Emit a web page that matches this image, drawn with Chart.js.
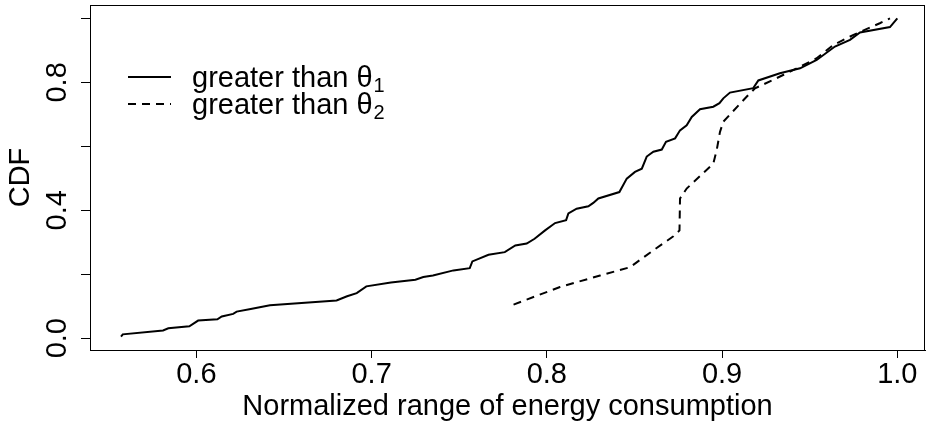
<!DOCTYPE html>
<html>
<head>
<meta charset="utf-8">
<title>CDF</title>
<script src="https://cdn.jsdelivr.net/npm/chart.js@4.4.1/dist/chart.umd.min.js"></script>
<style>
    html, body { margin: 0; padding: 0; background: #ffffff; }
    #wrap { width: 926px; height: 428px; }
</style>
</head>
<body>
<div id="wrap"><canvas id="cdfChart" width="926" height="428"></canvas></div>
<script>
// curva solida: rango normalizado mayor que theta 1
const thetaOneX = [0.557, 0.558, 0.581, 0.584, 0.596, 0.601, 0.612, 0.6145, 0.621, 0.623,
    0.631, 0.642, 0.680, 0.686, 0.6915, 0.697, 0.711, 0.725, 0.7295, 0.735,
    0.7467, 0.756, 0.7575, 0.7667, 0.776, 0.782, 0.7885, 0.793, 0.799, 0.8047,
    0.811, 0.8123, 0.817, 0.8237, 0.8265, 0.8294, 0.8414, 0.8456, 0.8503, 0.8542,
    0.857, 0.8608, 0.8656, 0.868, 0.8732, 0.876, 0.8798, 0.8827, 0.8874, 0.895,
    0.8985, 0.9007, 0.9045, 0.9178, 0.9207, 0.933, 0.9445, 0.954, 0.9644, 0.973,
    0.9787, 0.9958, 1.0];
const thetaOneY = [0.005, 0.012, 0.024, 0.031, 0.037, 0.055, 0.059, 0.068, 0.076, 0.083,
    0.091, 0.103, 0.118, 0.131, 0.141, 0.162, 0.174, 0.183, 0.191, 0.196,
    0.212, 0.219, 0.240, 0.261, 0.269, 0.290, 0.296, 0.311, 0.337, 0.360,
    0.369, 0.390, 0.405, 0.4125, 0.423, 0.437, 0.457, 0.499, 0.520, 0.530,
    0.568, 0.583, 0.590, 0.614, 0.625, 0.650, 0.666, 0.692, 0.716, 0.724,
    0.735, 0.750, 0.768, 0.782, 0.806, 0.8285, 0.844, 0.870, 0.912, 0.933,
    0.956, 0.973, 1.0];

// curva discontinua: mayor que theta 2
const thetaTwoX = [0.781, 0.8075, 0.8304, 0.8475, 0.8608, 0.8722, 0.8757, 0.876, 0.8798, 0.895,
    0.897, 0.8988, 0.9007, 0.914, 0.9188, 0.929, 0.9426, 0.954, 0.9635, 0.975,
    0.990, 0.9958];
const thetaTwoY = [0.105, 0.160, 0.196, 0.222, 0.275, 0.3185, 0.337, 0.437, 0.468, 0.546,
    0.590, 0.645, 0.677, 0.755, 0.7815, 0.8075, 0.844, 0.8755, 0.917, 0.9486,
    0.985, 1.0];

const xTicks = [0.6, 0.7, 0.8, 0.9, 1.0];
const yTicks = [0.0, 0.2, 0.4, 0.6, 0.8, 1.0];
const yTickLabels = [0.0, 0.4, 0.8];

const legendLabels = ['greater than \u03B8', 'greater than \u03B8'];
const legendSubs = ['1', '2'];

const FONT = '"Liberation Sans", Arial, Helvetica, sans-serif';
const DASH = [8, 6];

const toPoints = (xs, ys) => xs.map((x, i) => ({ x: x, y: ys[i] }));

// caja completa alrededor del area del grafico
const boxPlugin = {
    id: 'boxPlugin',
    afterDraw(chart) {
        const { ctx, chartArea } = chart;
        ctx.save();
        ctx.strokeStyle = '#000';
        ctx.lineWidth = 1;
        ctx.strokeRect(Math.round(chartArea.left) + 0.5, Math.round(chartArea.top) + 0.5,
            Math.round(chartArea.right - chartArea.left) - 1, Math.round(chartArea.bottom - chartArea.top));
        ctx.restore();
    }
};

// etiquetas del eje Y giradas, como en R
const yLabelPlugin = {
    id: 'yLabelPlugin',
    afterDraw(chart) {
        const { ctx } = chart;
        const yScale = chart.scales.y;
        ctx.save();
        ctx.fillStyle = '#000';
        ctx.font = '29px ' + FONT;
        ctx.textAlign = 'center';
        ctx.textBaseline = 'middle';
        yTickLabels.forEach(v => {
            const py = yScale.getPixelForValue(v);
            ctx.save();
            ctx.translate(58, py);
            ctx.rotate(-Math.PI / 2);
            ctx.fillText(v.toFixed(1), 0, 0);
            ctx.restore();
        });
        ctx.restore();
    }
};

// leyenda dentro del grafico
const legendPlugin = {
    id: 'legendPlugin',
    afterDraw(chart) {
        const { ctx } = chart;
        const rows = [77, 104];
        ctx.save();
        ctx.strokeStyle = '#000';
        ctx.fillStyle = '#000';
        ctx.lineWidth = 2;
        rows.forEach((ry, i) => {
            ctx.setLineDash(i === 0 ? [] : DASH);
            ctx.beginPath();
            ctx.moveTo(128, ry);
            ctx.lineTo(171, ry);
            ctx.stroke();

            ctx.font = '29px ' + FONT;
            ctx.textAlign = 'left';
            ctx.textBaseline = 'middle';
            ctx.fillText(legendLabels[i], 192, ry + 2);
            const w = ctx.measureText(legendLabels[i]).width;
            ctx.font = '20px ' + FONT;
            ctx.fillText(legendSubs[i], 192 + w + 1, ry + 9);
        });
        ctx.restore();
    }
};

new Chart(document.getElementById('cdfChart'), {
    type: 'scatter',
    data: {
        datasets: [{
            label: 'greater than theta1',
            data: toPoints(thetaOneX, thetaOneY),
            showLine: true,
            borderColor: '#000',
            borderWidth: 2,
            pointRadius: 0,
            tension: 0
        }, {
            label: 'greater than theta2',
            data: toPoints(thetaTwoX, thetaTwoY),
            showLine: true,
            borderColor: '#000',
            borderWidth: 2,
            borderDash: DASH,
            pointRadius: 0,
            tension: 0
        }]
    },
    options: {
        responsive: false,
        animation: false,
        devicePixelRatio: 1,
        layout: { padding: { top: 5, right: 1, left: 0, bottom: 0 } },
        plugins: {
            legend: { display: false },
            tooltip: { enabled: false }
        },
        scales: {
            x: {
                type: 'linear',
                min: 0.5393,
                max: 1.0158,
                afterBuildTicks: (scale) => { scale.ticks = xTicks.map(v => ({ value: v })); },
                afterFit: (scale) => { scale.height = 78; },
                border: { display: true, color: '#000', width: 1 },
                grid: { drawOnChartArea: false, drawTicks: true, tickLength: 8, color: '#000' },
                ticks: {
                    color: '#000',
                    font: { family: FONT, size: 29 },
                    padding: 0,
                    maxRotation: 0,
                    autoSkip: false,
                    callback: (v) => Number(v).toFixed(1)
                },
                title: {
                    display: true,
                    text: 'Normalized range of energy consumption',
                    color: '#000',
                    font: { family: FONT, size: 29, lineHeight: 1.2 },
                    padding: { top: 0, bottom: 4 }
                }
            },
            y: {
                type: 'linear',
                min: -0.037,
                max: 1.042,
                afterBuildTicks: (scale) => { scale.ticks = yTicks.map(v => ({ value: v })); },
                afterFit: (scale) => { scale.width = 90; },
                border: { display: true, color: '#000', width: 1 },
                grid: { drawOnChartArea: false, drawTicks: true, tickLength: 9, color: '#000' },
                ticks: { display: false },
                title: {
                    display: true,
                    text: 'CDF',
                    color: '#000',
                    font: { family: FONT, size: 29, lineHeight: 1.2 },
                    padding: { top: 4, bottom: 0 }
                }
            }
        }
    },
    plugins: [boxPlugin, yLabelPlugin, legendPlugin]
});
</script>
</body>
</html>
